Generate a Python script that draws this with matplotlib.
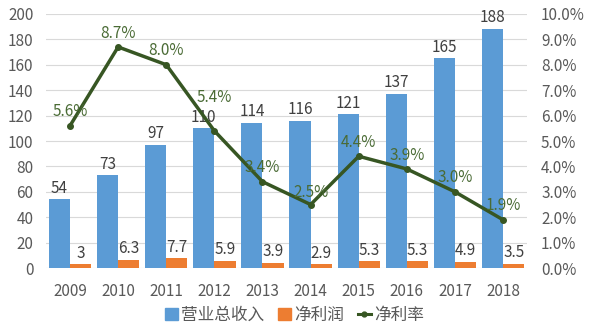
import numpy as np
import matplotlib
matplotlib.use('Agg')
import matplotlib.pyplot as plt
from matplotlib.lines import Line2D
from matplotlib.patches import Patch

plt.rcParams['font.family'] = ['Noto Sans CJK SC', 'DejaVu Sans']

# Data
years    = ['2009', '2010', '2011', '2012', '2013', '2014', '2015', '2016', '2017', '2018']
revenue  = [54, 73, 97, 110, 114, 116, 121, 137, 165, 188]
profit   = [3, 6.3, 7.7, 5.9, 3.9, 2.9, 5.3, 5.3, 4.9, 3.5]
profit_labels = ['3', '6.3', '7.7', '5.9', '3.9', '2.9', '5.3', '5.3', '4.9', '3.5']
margin   = [5.6, 8.7, 8.0, 5.4, 3.4, 2.5, 4.4, 3.9, 3.0, 1.9]
series_names = ['营业总收入', '净利润', '净利率']

# label offsets (points) for the margin labels
margin_dy = [10, 10, 10, 24, 10, 9, 10, 10, 10, 10]

BLUE   = '#5B9BD5'
ORANGE = '#ED7D31'
GREEN  = '#375623'
TXT    = '#595959'
FS     = 11

fig = plt.figure(figsize=(5.89, 3.31), dpi=100)
ax = fig.add_axes([0.078, 0.190, 0.817, 0.768])
ax2 = ax.twinx()

x = np.arange(len(years))
w = 0.44
ax.bar(x - w / 2, revenue, w, color=BLUE, zorder=2)
ax.bar(x + w / 2, profit, w, color=ORANGE, zorder=2)

for xi, v in zip(x, revenue):
    ax.annotate(str(v), (xi - w / 2, v), xytext=(0, 2), textcoords='offset points',
                ha='center', va='bottom', fontsize=FS, color='#404040')
for xi, v, s in zip(x, profit, profit_labels):
    ax.annotate(s, (xi + w / 2, v), xytext=(0, 2), textcoords='offset points',
                ha='center', va='bottom', fontsize=FS, color='#404040')

ax.set_ylim(0, 200)
ax.set_yticks(np.arange(0, 201, 20))
ax.set_xlim(-0.5, len(years) - 0.5)
ax.set_xticks(x)
ax.set_xticklabels(years)
ax.grid(axis='y', color='#D9D9D9', linewidth=0.8, zorder=0)
ax.set_axisbelow(True)

ax2.plot(x, margin, color=GREEN, linewidth=2.5, marker='o', markersize=4, zorder=3)
for xi, v, dy in zip(x, margin, margin_dy):
    ax2.annotate(f'{v:.1f}%', (xi, v), xytext=(0, dy), textcoords='offset points',
                 ha='center', va='center', fontsize=FS, color='#4A6B35')
ax2.set_ylim(0, 10)
ax2.set_yticks(np.arange(0, 10.01, 1))
ax2.set_yticklabels([f'{t:.1f}%' for t in np.arange(0, 10.01, 1)])

for a in (ax, ax2):
    for sp in a.spines.values():
        sp.set_visible(False)
    a.tick_params(length=0, labelsize=FS, labelcolor=TXT)
ax.tick_params(axis='x', pad=11)
ax.tick_params(axis='y', pad=9)
ax2.tick_params(axis='y', pad=10)

handles = [Patch(color=BLUE), Patch(color=ORANGE),
           Line2D([0], [0], color=GREEN, linewidth=2.2, marker='o', markersize=3.5)]
fig.legend(handles, series_names, loc='center', bbox_to_anchor=(0.5, 0.048), ncol=3,
           frameon=False, fontsize=12, labelcolor=TXT, handlelength=0.8,
           handletextpad=0.2, columnspacing=0.8)

plt.savefig('out.png', dpi=100)
